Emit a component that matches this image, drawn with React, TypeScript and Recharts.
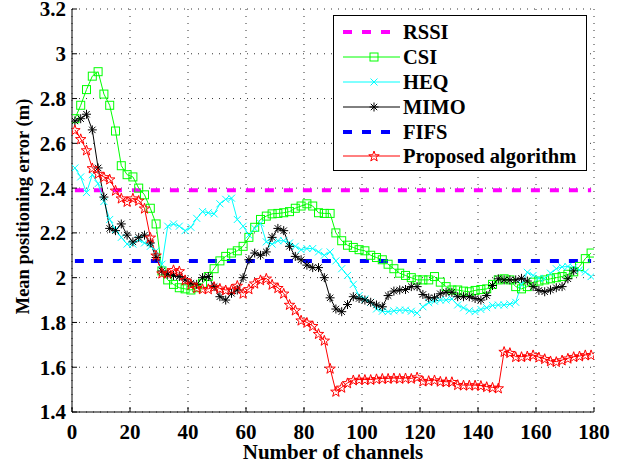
import { LineChart, Line, XAxis, YAxis, CartesianGrid, Legend, Label } from "recharts";

// channel index of each sample (every second channel)
const channels = [
  1, 3, 5, 7, 9, 11, 13, 15, 17, 19,
  21, 23, 25, 27, 29, 31, 33, 35, 37, 39,
  41, 43, 45, 47, 49, 51, 53, 55, 57, 59,
  61, 63, 65, 67, 69, 71, 73, 75, 77, 79,
  81, 83, 85, 87, 89, 91, 93, 95, 97, 99,
  101, 103, 105, 107, 109, 111, 113, 115, 117, 119,
  121, 123, 125, 127, 129, 131, 133, 135, 137, 139,
  141, 143, 145, 147, 149, 151, 153, 155, 157, 159,
  161, 163, 165, 167, 169, 171, 173, 175, 177, 179,
];

const csi = [
  2.71, 2.77, 2.84, 2.9, 2.92, 2.82, 2.77, 2.655, 2.5, 2.46,
  2.45, 2.4, 2.37, 2.31, 2.24, 2.03, 1.99, 1.97, 1.955, 1.95,
  1.945, 1.955, 1.975, 2.005, 2.04, 2.075, 2.095, 2.11, 2.12, 2.14,
  2.18, 2.225, 2.26, 2.275, 2.285, 2.287, 2.29, 2.295, 2.31, 2.32,
  2.33, 2.32, 2.29, 2.287, 2.287, 2.2, 2.165, 2.145, 2.135, 2.125,
  2.12, 2.1, 2.09, 2.08, 2.06, 2.04, 2.02, 2.01, 2.0, 1.99,
  1.99, 1.99, 2.005, 1.98, 1.96, 1.945, 1.945, 1.94, 1.937, 1.943,
  1.947, 1.95, 1.97, 1.99, 1.995, 1.99, 1.96, 1.95, 1.96, 1.98,
  1.985, 1.99, 1.995, 2.0, 2.005, 2.015, 2.026, 2.05, 2.085, 2.11,
];

const heq = [
  2.49, 2.45, 2.38, 2.46, 2.42, 2.34, 2.26, 2.215, 2.18, 2.15,
  2.15, 2.17, 2.155, 2.14, 2.12, 2.06, 2.23, 2.24, 2.23, 2.21,
  2.225, 2.265, 2.295, 2.29, 2.285, 2.33, 2.35, 2.355, 2.26, 2.23,
  2.19, 2.22, 2.243, 2.16, 2.15, 2.165, 2.165, 2.155, 2.14, 2.125,
  2.13, 2.13, 2.115, 2.1, 2.115, 2.075, 2.04, 2.01, 1.97, 1.92,
  1.905, 1.89, 1.86, 1.85, 1.848, 1.852, 1.855, 1.855, 1.85, 1.842,
  1.87, 1.888, 1.895, 1.9, 1.9, 1.905, 1.878, 1.865, 1.852, 1.848,
  1.858, 1.866, 1.876, 1.878, 1.878, 1.882, 1.89, 1.97, 2.024, 2.01,
  1.997, 1.997, 2.02, 2.04, 2.048, 2.05, 2.045, 2.035, 2.025, 2.005,
];

const mimo = [
  2.7, 2.71, 2.73, 2.66, 2.49, 2.36, 2.22, 2.21, 2.24, 2.19,
  2.16, 2.18, 2.19, 2.155, 2.09, 2.03, 2.015, 2.01, 2.005, 1.99,
  1.975, 1.97, 2.0, 2.005, 1.96, 1.915, 1.9, 1.93, 1.945, 2.0,
  2.08, 2.11, 2.1, 2.115, 2.18, 2.22, 2.21, 2.14, 2.095, 2.08,
  2.056, 2.045, 2.045, 2.0, 1.91, 1.86, 1.848, 1.88, 1.915, 1.907,
  1.9, 1.89, 1.878, 1.87, 1.92, 1.94, 1.945, 1.947, 1.96, 1.96,
  1.925, 1.91, 1.91, 1.928, 1.935, 1.935, 1.915, 1.915, 1.915, 1.907,
  1.9, 1.92, 1.965, 1.995, 1.99, 1.99, 1.99, 1.997, 1.985, 1.96,
  1.943, 1.937, 1.945, 1.955, 1.96, 1.995, 2.03, null, null, null,
];

const proposed = [
  2.66, 2.62, 2.57, 2.49, 2.465, 2.45, 2.44, 2.39, 2.355, 2.34,
  2.355, 2.345, 2.31, 2.18, 2.1, 2.02, 2.02, 2.035, 2.03, 1.99,
  1.97, 1.955, 1.95, 1.95, 1.96, 1.952, 1.945, 1.948, 1.965, 1.93,
  1.95, 1.975, 1.99, 1.997, 1.97, 1.955, 1.93, 1.88, 1.855, 1.81,
  1.8, 1.785, 1.75, 1.72, 1.595, 1.492, 1.51, 1.53, 1.543, 1.545,
  1.545, 1.545, 1.548, 1.55, 1.55, 1.552, 1.55, 1.552, 1.55, 1.556,
  1.538, 1.54, 1.543, 1.537, 1.535, 1.535, 1.522, 1.52, 1.52, 1.52,
  1.518, 1.513, 1.51, 1.507, 1.67, 1.665, 1.647, 1.647, 1.65, 1.655,
  1.645, 1.638, 1.628, 1.625, 1.632, 1.64, 1.647, 1.65, 1.655, 1.655,
];

// flat baselines
const RSSI_LEVEL = 2.39;
const FIFS_LEVEL = 2.075;

const xTicks = [0, 20, 40, 60, 80, 100, 120, 140, 160, 180];
const yTicks = [1.4, 1.6, 1.8, 2.0, 2.2, 2.4, 2.6, 2.8, 3.0, 3.2];

const data = channels.map((ch, i) => ({
  ch,
  rssi: RSSI_LEVEL,
  csi: csi[i],
  heq: heq[i],
  mimo: mimo[i],
  fifs: FIFS_LEVEL,
  proposed: proposed[i],
}));

const FONT = "'Liberation Serif', 'Times New Roman', Times, serif";

const COLORS = {
  rssi: "#ff00ff",
  csi: "#00ff00",
  heq: "#00ffff",
  mimo: "#000000",
  fifs: "#0000ff",
  proposed: "#ff0000",
};

const starPoints = (cx: number, cy: number, r: number) => {
  const pts: string[] = [];
  for (let k = 0; k < 10; k++) {
    const rad = k % 2 === 0 ? r : r * 0.4;
    const a = -Math.PI / 2 + (k * Math.PI) / 5;
    pts.push(`${cx + rad * Math.cos(a)},${cy + rad * Math.sin(a)}`);
  }
  return pts.join(" ");
};

const Marker = ({ kind, cx, cy, color }: { kind: string; cx: number; cy: number; color: string }) => {
  switch (kind) {
    case "square":
      return <rect x={cx - 4} y={cy - 4} width={8} height={8} fill="none" stroke={color} strokeWidth={1} />;
    case "x":
      return (
        <path
          d={`M${cx - 3.5},${cy - 3.5}L${cx + 3.5},${cy + 3.5}M${cx - 3.5},${cy + 3.5}L${cx + 3.5},${cy - 3.5}`}
          stroke={color}
          strokeWidth={1}
        />
      );
    case "asterisk":
      return (
        <path
          d={`M${cx - 4.5},${cy}L${cx + 4.5},${cy}M${cx},${cy - 4.5}L${cx},${cy + 4.5}M${cx - 3.2},${cy - 3.2}L${cx + 3.2},${cy + 3.2}M${cx - 3.2},${cy + 3.2}L${cx + 3.2},${cy - 3.2}`}
          stroke={color}
          strokeWidth={1}
        />
      );
    case "star":
      return <polygon points={starPoints(cx, cy + 0.5, 5.5)} fill="none" stroke={color} strokeWidth={1} />;
    default:
      return null;
  }
};

const makeDot = (kind: string, color: string) => (props: any) => {
  const { cx, cy, index } = props;
  const key = `${kind}-${index}`;
  if (typeof cy !== "number" || !isFinite(cy) || props.value == null) return <g key={key} />;
  return (
    <g key={key}>
      <Marker kind={kind} cx={cx} cy={cy} color={color} />
    </g>
  );
};

const legendItems = [
  { name: "RSSI", color: COLORS.rssi, dashed: true, marker: "" },
  { name: "CSI", color: COLORS.csi, dashed: false, marker: "square" },
  { name: "HEQ", color: COLORS.heq, dashed: false, marker: "x" },
  { name: "MIMO", color: COLORS.mimo, dashed: false, marker: "asterisk" },
  { name: "FIFS", color: COLORS.fifs, dashed: true, marker: "" },
  { name: "Proposed algorithm", color: COLORS.proposed, dashed: false, marker: "star" },
];

const LegendBox = () => (
  <div
    style={{
      border: "1px solid #000",
      background: "#fff",
      paddingTop: 4,
      paddingBottom: 1,
      paddingLeft: 9,
      boxSizing: "border-box",
      width: 254,
    }}
  >
    {legendItems.map((it) => (
      <div key={it.name} style={{ display: "flex", alignItems: "center", height: 24.8 }}>
        <svg width={57} height={20} style={{ display: "block" }}>
          {it.dashed ? (
            <line x1={0} y1={10} x2={57} y2={10} stroke={it.color} strokeWidth={4} strokeDasharray="9 10" />
          ) : (
            <line x1={0} y1={10} x2={57} y2={10} stroke={it.color} strokeWidth={1} />
          )}
          {it.marker && <Marker kind={it.marker} cx={31} cy={10} color={it.color} />}
        </svg>
        <span
          style={{
            marginLeft: 3,
            fontFamily: FONT,
            fontWeight: "bold",
            fontSize: 20.5,
            color: "#000",
            lineHeight: "20px",
            whiteSpace: "nowrap",
          }}
        >
          {it.name}
        </span>
      </div>
    ))}
  </div>
);

const tickStyle = { fill: "#000", fontSize: 21, fontWeight: "bold", fontFamily: FONT };
const fmtY = (v: number) => String(Number(v.toFixed(1)));

const App = () => {
  return (
    <div style={{ position: "absolute", left: 0, top: 0, width: 628, height: 466, background: "#fff" }}>
      <LineChart width={628} height={466} data={data} margin={{ top: 9, right: 34, left: 0, bottom: 0 }}>
        <CartesianGrid xAxisId="b" yAxisId="l" stroke="#333" strokeDasharray="1 6" />
        <XAxis
          xAxisId="b"
          dataKey="ch"
          type="number"
          domain={[0, 180]}
          ticks={xTicks}
          interval={0}
          height={54}
          tickSize={-5}
          tickMargin={17}
          stroke="#000"
          tick={tickStyle}
          allowDataOverflow
        >
          <Label
            value="Number of channels"
            position="insideBottom"
            offset={7}
            style={{ fill: "#000", fontSize: 21, fontWeight: "bold", fontFamily: FONT }}
          />
        </XAxis>
        <XAxis
          xAxisId="t"
          orientation="top"
          dataKey="ch"
          type="number"
          domain={[0, 180]}
          ticks={xTicks}
          interval={0}
          height={0}
          tickSize={-5}
          tick={false}
          stroke="#000"
        />
        <YAxis
          yAxisId="l"
          type="number"
          domain={[1.4, 3.2]}
          ticks={yTicks}
          interval={0}
          width={72}
          tickSize={-5}
          tickMargin={11}
          stroke="#000"
          tick={tickStyle}
          tickFormatter={fmtY}
          allowDataOverflow
        >
          <Label
            content={({ viewBox }: any) => {
              const x = viewBox.x + 23;
              const y = viewBox.y + viewBox.height / 2 - 4;
              return (
                <text
                  x={x}
                  y={y}
                  transform={`rotate(-90 ${x} ${y})`}
                  textAnchor="middle"
                  dominantBaseline="central"
                  fill="#000"
                  fontSize={18.5}
                  fontWeight="bold"
                  fontFamily={FONT}
                >
                  Mean positioning error (m)
                </text>
              );
            }}
          />
        </YAxis>
        <YAxis
          yAxisId="r"
          orientation="right"
          type="number"
          domain={[1.4, 3.2]}
          ticks={yTicks}
          interval={0}
          width={0}
          tickSize={-5}
          tick={false}
          stroke="#000"
        />
        <Legend
          layout="vertical"
          align="center"
          verticalAlign="middle"
          content={() => <LegendBox />}
          wrapperStyle={{ top: 15, left: 333, width: 254, height: "auto" }}
        />
        <Line
          xAxisId="b"
          yAxisId="l"
          dataKey="rssi"
          name="RSSI"
          stroke={COLORS.rssi}
          strokeWidth={4}
          strokeDasharray="9 10"
          dot={false}
          isAnimationActive={false}
        />
        <Line
          xAxisId="b"
          yAxisId="l"
          dataKey="csi"
          name="CSI"
          stroke={COLORS.csi}
          strokeWidth={1}
          dot={makeDot("square", COLORS.csi)}
          isAnimationActive={false}
        />
        <Line
          xAxisId="b"
          yAxisId="l"
          dataKey="heq"
          name="HEQ"
          stroke={COLORS.heq}
          strokeWidth={1}
          dot={makeDot("x", COLORS.heq)}
          isAnimationActive={false}
        />
        <Line
          xAxisId="b"
          yAxisId="l"
          dataKey="mimo"
          name="MIMO"
          stroke={COLORS.mimo}
          strokeWidth={1}
          dot={makeDot("asterisk", COLORS.mimo)}
          isAnimationActive={false}
        />
        <Line
          xAxisId="b"
          yAxisId="l"
          dataKey="fifs"
          name="FIFS"
          stroke={COLORS.fifs}
          strokeWidth={4}
          strokeDasharray="9 10"
          dot={false}
          isAnimationActive={false}
        />
        <Line
          xAxisId="b"
          yAxisId="l"
          dataKey="proposed"
          name="Proposed algorithm"
          stroke={COLORS.proposed}
          strokeWidth={1}
          dot={makeDot("star", COLORS.proposed)}
          isAnimationActive={false}
        />
      </LineChart>
    </div>
  );
};

export default App;
